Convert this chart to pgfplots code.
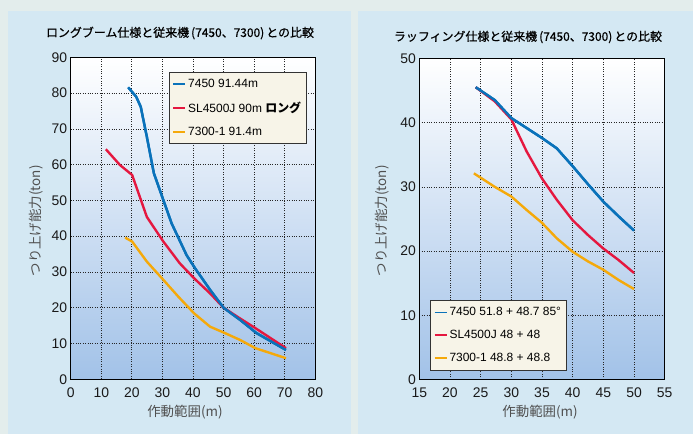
\documentclass[border=0pt]{standalone}
\usepackage{fontspec}
\setmainfont{Liberation Sans}
\newfontfamily\jp{Noto Sans CJK JP}
\newfontfamily\jpt{Noto Sans CJK JP}[FakeBold=0.6]
\usepackage{pgfplots}
\usepackage{pgfplotstable}
\pgfplotsset{compat=1.18}

\definecolor{outerbg}{HTML}{E3EDEC}
\definecolor{panelbg}{HTML}{D4E8F3}
\definecolor{plotbot}{HTML}{A2C2E8}
\definecolor{legbg}{HTML}{F7F4E8}
\definecolor{cblue}{HTML}{0A72BA}
\definecolor{cred}{HTML}{E5173F}
\definecolor{corange}{HTML}{F5A90A}
\definecolor{labgrey}{HTML}{505050}

% long boom
\pgfplotstableread{
x y
18.8 81.6
21.4 79.0
22.9 76.2
24.9 67.8
27.2 57.6
30.3 50.1
33.0 43.6
37.9 34.7
40.7 31.0
45.6 25.0
50.0 20.0
55.4 16.6
60.8 12.9
70.4 8.2
}\lbBlue
\pgfplotstableread{
x y
11.5 64.3
16.1 59.9
20.1 57.1
24.9 45.4
30.3 38.5
35.7 32.4
40.4 28.2
45.6 24.0
50.0 20.0
55.4 17.0
60.4 14.3
70.4 8.7
}\lbRed
\pgfplotstableread{
x y
17.8 39.6
20.1 38.5
24.9 32.9
30.3 27.8
35.2 23.1
40.4 18.4
45.6 14.7
50.5 12.9
55.4 11.0
60.4 8.7
70.4 5.9
}\lbOrange

% luffing
\pgfplotstableread{
x y
24.2 45.5
27.3 43.5
30.0 40.7
35.0 37.6
37.4 36.0
40.1 33.1
42.6 30.3
45.0 27.7
47.5 25.4
50.0 23.2
}\luBlue
\pgfplotstableread{
x y
24.2 45.5
27.3 43.3
30.0 40.5
32.5 35.5
35.0 31.3
37.4 28.0
40.0 24.8
42.5 22.5
45.0 20.4
47.5 18.6
50.0 16.6
}\luRed
\pgfplotstableread{
x y
23.9 32.1
27.3 30.0
30.0 28.5
32.5 26.4
35.0 24.4
37.4 22.0
40.0 19.9
42.5 18.4
45.0 17.1
47.5 15.5
50.0 14.1
}\luOrange

\pgfplotsset{
  crane/.style={
    scale only axis,
    anchor=south west,
    axis background/.style={top color=white, bottom color=plotbot},
    axis line style={black, line width=1bp},
    tick style={draw=none},
    grid=major,
    major grid style={black!85, line width=0.7bp, dash pattern=on 1bp off 1.4bp},
    /pgf/number format/assume math mode=true,
    ticklabel style={font=\fontsize{14}{16}\selectfont, text=black!90},
    xticklabel style={yshift=-5bp},
    label style={font=\jp\fontsize{13.5}{15}\selectfont, text=labgrey},
    every axis plot/.append style={line width=2.4bp, no marks},
    legend image code/.code={\draw[#1, line width=1.8bp] (0bp,0bp) -- (12bp,0bp);},
    legend style={fill=legbg, draw=black!80, line width=0.8bp,
      font=\fontsize{12}{14}\selectfont, row sep=9bp,
      inner xsep=3bp, inner ysep=5bp, cells={anchor=west}},
  }
}

\begin{document}
\begin{tikzpicture}
\useasboundingbox (0,0) rectangle (693bp,434bp);
\fill[outerbg] (0,0) rectangle (693bp,434bp);
\fill[panelbg] (8bp,0) rectangle (351bp,423bp);
\fill[panelbg] (358bp,0) rectangle (693bp,423bp);

\node[font=\jpt\fontsize{12}{14}\selectfont] at (180bp,401bp)
  {ロングブーム仕様と従来機\hspace{2bp}(7450、7300)\hspace{2bp}との比較};
\node[font=\jpt\fontsize{12}{14}\selectfont] at (528bp,397bp)
  {ラッフィング仕様と従来機\hspace{2bp}(7450、7300)\hspace{2bp}との比較};

\begin{axis}[crane,
  at={(70.7bp,54.7bp)}, width=244.6bp, height=322bp,
  xmin=0, xmax=80, ymin=0, ymax=90,
  xtick={0,10,...,80}, ytick={0,10,...,90},
  xlabel={作動範囲(m)}, ylabel={つり上げ能力(ton)},
  xlabel style={at={(axis description cs:0.467,-0.102)}, anchor=center},
  ylabel style={at={(axis description cs:-0.142,0.492)}, anchor=center, rotate=0},
  legend style={at={(0.402,0.955)}, anchor=north west},
]
\addplot[cblue] table {\lbBlue};
\addlegendentry{7450 91.44m}
\addplot[cred] table {\lbRed};
\addlegendentry{SL4500J 90m {\jp\bfseries ロング}}
\addplot[corange] table {\lbOrange};
\addlegendentry{7300-1 91.4m}
\addplot[cblue, forget plot] table {\lbBlue};
\end{axis}

\begin{axis}[crane,
  at={(419.3bp,54.3bp)}, width=245.4bp, height=321.4bp,
  xmin=15, xmax=55, ymin=0, ymax=50,
  xtick={15,20,...,55}, ytick={0,10,...,50},
  xlabel={作動範囲(m)}, ylabel={つり上げ能力(ton)},
  xlabel style={at={(axis description cs:0.492,-0.1)}, anchor=center},
  ylabel style={at={(axis description cs:-0.152,0.494)}, anchor=center, rotate=0},
  legend style={at={(0.045,0.029)}, anchor=south west},
]
\addplot[cblue] table {\luBlue};
\addlegendentry{7450 51.8 + 48.7 85°}
\addplot[cred] table {\luRed};
\addlegendentry{SL4500J 48 + 48}
\addplot[corange] table {\luOrange};
\addlegendentry{7300-1 48.8 + 48.8}
\addplot[cblue, forget plot] table {\luBlue};
\end{axis}
\end{tikzpicture}
\end{document}
